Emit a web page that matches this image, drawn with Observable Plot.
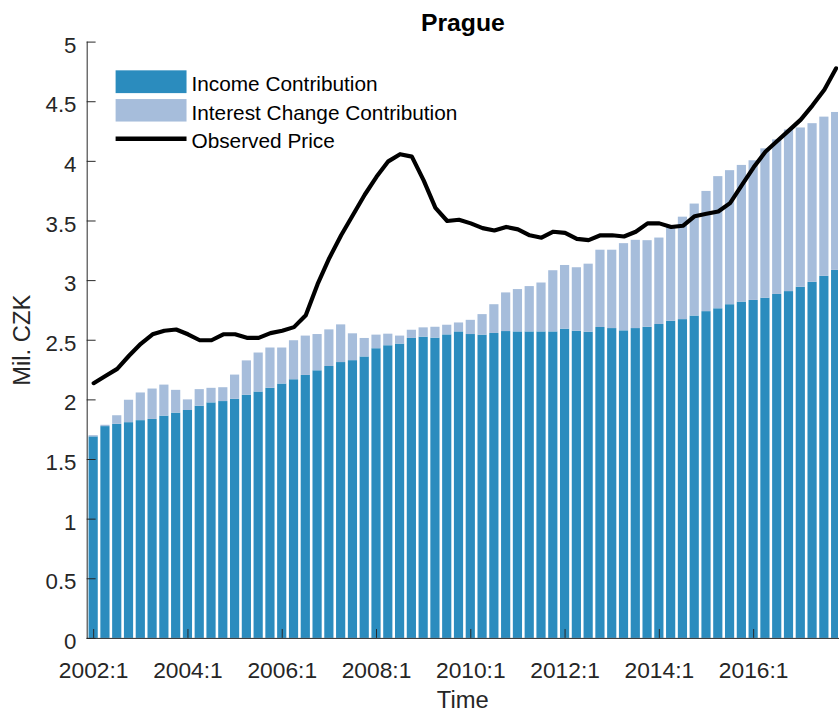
<!DOCTYPE html>
<html><head><meta charset="utf-8">
<script src="https://cdn.jsdelivr.net/npm/d3@7"></script>
<script src="https://cdn.jsdelivr.net/npm/@observablehq/plot@0.6"></script>
<style>
html,body{margin:0;padding:0;background:#fff;overflow:hidden;}
#chart{position:relative;width:839px;height:715px;overflow:hidden;}
</style></head><body><div id="chart"></div>
<script>
// ---- data (Mil. CZK), quarterly from 2002:1 ----
const startYear = 2002;
const income = [1.690,1.776,1.795,1.809,1.826,1.836,1.864,1.889,1.911,1.947,
  1.975,1.986,2.005,2.039,2.066,2.097,2.133,2.169,2.205,2.244,
  2.280,2.313,2.329,2.360,2.429,2.454,2.468,2.515,2.526,2.518,
  2.545,2.570,2.548,2.543,2.557,2.573,2.570,2.570,2.570,2.570,
  2.593,2.576,2.568,2.607,2.598,2.579,2.598,2.609,2.632,2.659,
  2.673,2.703,2.740,2.764,2.798,2.820,2.834,2.853,2.884,2.908,
  2.944,2.986,3.036,3.086];
const interestChange = [0.010,0.011,0.072,0.188,0.232,0.255,0.260,0.191,0.089,0.139,
  0.122,0.116,0.203,0.288,0.327,0.338,0.302,0.327,0.330,0.304,
  0.307,0.316,0.225,0.155,0.114,0.097,0.067,0.069,0.078,0.091,
  0.081,0.075,0.119,0.172,0.241,0.324,0.355,0.380,0.410,0.513,
  0.534,0.532,0.570,0.648,0.657,0.731,0.740,0.726,0.725,0.790,
  0.859,0.939,1.008,1.108,1.124,1.146,1.171,1.252,1.296,1.355,
  1.336,1.330,1.335,1.324];
const observedPrice = [2.14,2.20,2.26,2.37,2.47,2.55,2.58,2.59,2.55,2.50,
  2.50,2.55,2.55,2.52,2.52,2.56,2.58,2.61,2.71,2.97,
  3.19,3.38,3.55,3.72,3.87,4.00,4.06,4.04,3.84,3.61,
  3.50,3.51,3.48,3.44,3.42,3.45,3.43,3.38,3.36,3.41,
  3.40,3.35,3.34,3.38,3.38,3.37,3.41,3.48,3.48,3.45,
  3.46,3.54,3.56,3.58,3.65,3.80,3.95,4.08,4.17,4.26,
  4.35,4.47,4.60,4.78];
const xTickLabels = ["2002:1","2004:1","2006:1","2008:1","2010:1","2012:1","2014:1","2016:1"];
const yTicks = [0,0.5,1,1.5,2,2.5,3,3.5,4,4.5,5];
const seriesNames = ["Income Contribution","Interest Change Contribution","Observed Price"];
const colors = {income: "#2b8cbe", interest: "#a6bddb", price: "#000000"};

// ---- build table ----
const quarters = income.map((_, i) => `${startYear + Math.floor(i / 4)}:${(i % 4) + 1}`);
const rows = income.map((v, i) => ({
  i, q: quarters[i], income: v, interest: interestChange[i],
  total: v + interestChange[i], price: observedPrice[i]
}));
const tickIdx = xTickLabels.map(l => quarters.indexOf(l));

const font = "'Liberation Sans', Arial, Helvetica, sans-serif";
const axisColor = "#262626";
const half = 0.39;

const chart = Plot.plot({
  width: 847, height: 715,
  marginLeft: 87.5, marginRight: 1, marginTop: 42, marginBottom: 71,
  style: {fontFamily: font, background: "white", overflow: "visible"},
  x: {type: "linear", domain: [-0.55, 63.2], axis: null},
  y: {domain: [0, 5], axis: null},
  marks: [
    Plot.rectY(rows, {x1: d => d.i - half, x2: d => d.i + half, y1: 0, y2: "income", fill: colors.income, clip: true}),
    Plot.rectY(rows, {x1: d => d.i - half, x2: d => d.i + half, y1: "income", y2: "total", fill: colors.interest, clip: true}),
    Plot.line(rows, {x: "i", y: "price", stroke: colors.price, strokeWidth: 4.2, clip: true}),
    Plot.frame({anchor: "left", stroke: axisColor}),
    Plot.frame({anchor: "bottom", stroke: axisColor}),
    Plot.axisY({ticks: yTicks, tickSize: 9, dx: 9, text: null, stroke: axisColor, label: null}),
    Plot.axisY({ticks: yTicks, tickSize: 0, tickPadding: 10.8, fontSize: 22.5, fill: axisColor,
      tickFormat: d => String(d), label: null, dy: 3.5}),
    Plot.axisX({ticks: tickIdx, tickSize: 9, dy: -9, text: null, stroke: axisColor, label: null}),
    Plot.axisX({ticks: tickIdx, tickSize: 0, tickPadding: 18, dy: 6, fontSize: 23, fill: axisColor,
      tickFormat: i => quarters[i], label: null}),
    Plot.text(["Prague"], {frameAnchor: "top", dy: -11.3, lineAnchor: "bottom", fontSize: 25, fontWeight: "bold", fill: "#000"}),
    Plot.text(["Time"], {frameAnchor: "bottom", dy: 70, lineAnchor: "bottom", fontSize: 24, fill: axisColor}),
    Plot.text(["Mil. CZK"], {frameAnchor: "left", dx: -65, rotate: -90, textAnchor: "middle", fontSize: 24, fill: axisColor})
  ]
});
document.getElementById("chart").appendChild(chart);

// ---- legend (inside the axes, top-left) ----
const svg = d3.select(chart);
const lg = svg.append("g").attr("font-family", font).attr("font-size", 21)
  .attr("fill", "#000").attr("text-anchor", "start");
const legendItems = [
  {name: seriesNames[0], kind: "rect", color: colors.income, top: 71, h: 23, base: 92.3},
  {name: seriesNames[1], kind: "rect", color: colors.interest, top: 100, h: 22.7, base: 120.7},
  {name: seriesNames[2], kind: "line", color: colors.price, top: 140, h: 0, base: 149}
];
for (const it of legendItems) {
  if (it.kind === "rect") {
    lg.append("rect").attr("x", 116.7).attr("y", it.top).attr("width", 71.6).attr("height", it.h).attr("fill", it.color);
  } else {
    lg.append("line").attr("x1", 116.7).attr("x2", 188.3).attr("y1", it.top).attr("y2", it.top)
      .attr("stroke", it.color).attr("stroke-width", 4.5);
  }
  lg.append("text").attr("x", 193.3).attr("y", it.base).attr("text-anchor", "start").text(it.name);
}
</script></body></html>
